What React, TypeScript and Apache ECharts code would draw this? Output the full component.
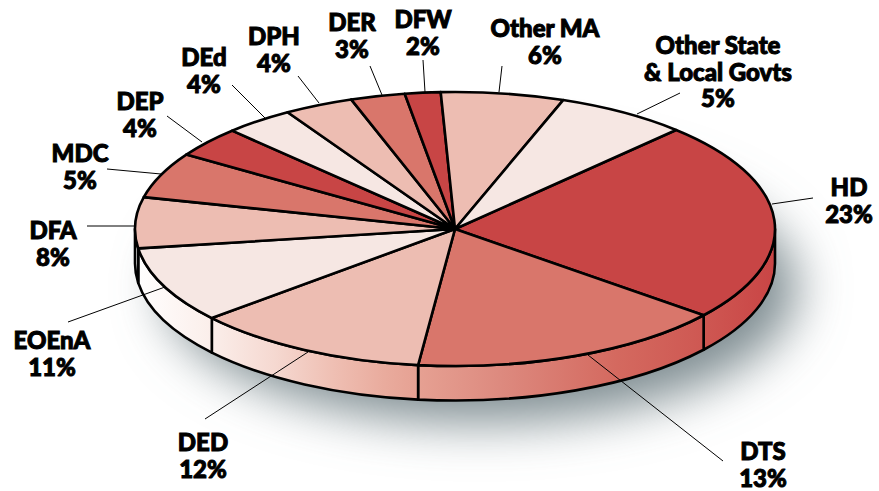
import React, { useEffect, useRef } from "react";
import * as echarts from "echarts";

const sliceNames = ["HD", "DTS", "DED", "EOEnA", "DFA", "MDC", "DEP", "DEd", "DPH", "DER", "DFW", "Other MA", "Other State\n& Local Govts"];
const percentLabels = ["23%", "13%", "12%", "11%", "8%", "5%", "4%", "4%", "4%", "3%", "2%", "6%", "5%"];
// Share of the disc each slice occupies as drawn in the picture
const drawnShares = [23.7, 16, 11.9, 9, 6, 5.4, 3.6, 3.5, 3.5, 2.75, 1.8, 6.2, 6.65];

const RED = "#c84545";
const MID = "#d9766b";
const LIGHT = "#edbdb2";
const PALE = "#f6e7e3";
const sliceColors = [RED, MID, LIGHT, PALE, LIGHT, MID, RED, PALE, LIGHT, MID, RED, LIGHT, PALE];

// Layout: [label centre x, first baseline y, leader x1, y1, x2, y2]
const labelLayout = [
  [849, 195, 772, 204, 813, 198],
  [763, 459, 588, 355, 723, 461],
  [203, 450, 308, 352, 205, 419],
  [52, 348, 165, 287, 68, 322],
  [53, 238, 134, 226, 87, 226],
  [80, 161, 161, 174, 107, 169],
  [140, 109, 202, 142, 167, 116],
  [204, 65, 265, 118, 232, 85],
  [274, 44, 319, 103, 298, 76],
  [352, 30, 382, 95, 370, 66],
  [423, 27, 425, 92, 423, 60],
  [545, 36, 499, 92, 502, 66],
  [718, 53, 637, 114, 680, 93],
];

const CX = 455, CY = 229, RX = 320, RY = 137, DEPTH = 34.5, START = 46.3;
const LINE_H = 26.5;
const FONT = "Lato";

const sideGradient = () =>
  new echarts.graphic.LinearGradient(135, 0, 775, 0, [
    { offset: 0, color: "#ffffff" },
    { offset: 0.12, color: "#fbeeea" },
    { offset: 0.22, color: "#f5d8d0" },
    { offset: 0.31, color: "#efbfb3" },
    { offset: 0.39, color: "#e9ab9d" },
    { offset: 0.44, color: "#e6a193" },
    { offset: 0.57, color: "#dd8a7f" },
    { offset: 0.753, color: "#d4695f" },
    { offset: 0.872, color: "#cf5a54" },
    { offset: 1, color: "#c94545" },
  ], true);

const px = (t: number) => CX + RX * Math.cos((t * Math.PI) / 180);
const py = (t: number, d = 0) => CY - RY * Math.sin((t * Math.PI) / 180) + d;

const total = drawnShares.reduce((a, b) => a + b, 0);
const sliceAngles: number[][] = [];
{
  let a = START;
  drawnShares.forEach((v) => {
    const b = a - (v / total) * 360;
    sliceAngles.push([a, b]);
    a = b;
  });
}

const lineStyle = { stroke: "#000", lineWidth: 2.6, lineJoin: "round" as const };

export default function App() {
  const ref = useRef<HTMLDivElement>(null);
  useEffect(() => {
    const chart = echarts.init(ref.current!, undefined, { renderer: "svg" });
    const texts = sliceNames.map((n, i) => ({
      type: "text",
      z: 101,
      x: labelLayout[i][0],
      y: labelLayout[i][1] + 5 + LINE_H * (n.split("\n").length),
      style: {
        text: `${n}\n${percentLabels[i]}`,
        font: `900 24px ${FONT}`,
        fill: "#000",
        stroke: "#000",
        lineWidth: 1,
        align: "center",
        verticalAlign: "bottom",
        lineHeight: LINE_H,
      },
    }));
    const leaders = labelLayout.map((l) => ({
      type: "line",
      z: 100,
      shape: { x1: l[2], y1: l[3], x2: l[4], y2: l[5] },
      style: { stroke: "#000", lineWidth: 1 },
    }));
    chart.setOption({
      animation: false,
      backgroundColor: "#fff",
      graphic: [
        {
          type: "ellipse",
          z: 0,
          shape: { cx: CX, cy: CY + DEPTH - 6, rx: RX - 4, ry: RY - 2 },
          style: {
            fill: "#fff",
            shadowColor: "#7f8d92",
            shadowBlur: 50,
            shadowOffsetX: 26,
            shadowOffsetY: 30,
          },
        },
        ...leaders,
        ...texts,
      ],
      series: [
        {
          type: "custom",
          coordinateSystem: "none",
          z: 2,
          silent: true,
          data: sliceAngles,
          renderItem: (_p: any, api: any) => {
            const a = Math.min(api.value(0), 0);
            const b = Math.max(api.value(1), -180);
            if (a <= b) return { type: "group", children: [] };
            const d =
              `M ${px(a)} ${py(a)} A ${RX} ${RY} 0 0 1 ${px(b)} ${py(b)} ` +
              `L ${px(b)} ${py(b, DEPTH)} A ${RX} ${RY} 0 0 0 ${px(a)} ${py(a, DEPTH)} Z`;
            return {
              type: "path",
              shape: { pathData: d },
              style: { fill: sideGradient(), ...lineStyle },
            };
          },
        },
        {
          type: "custom",
          coordinateSystem: "none",
          z: 3,
          silent: true,
          data: sliceAngles,
          renderItem: (p: any, api: any) => {
            const a = api.value(0);
            const b = api.value(1);
            const large = a - b > 180 ? 1 : 0;
            const d = `M ${CX} ${CY} L ${px(a)} ${py(a)} A ${RX} ${RY} 0 ${large} 1 ${px(b)} ${py(b)} Z`;
            return {
              type: "path",
              shape: { pathData: d },
              style: { fill: sliceColors[p.dataIndex], ...lineStyle },
            };
          },
        },
      ],
    });
    return () => chart.dispose();
  }, []);
  return <div ref={ref} style={{ width: 879, height: 491, position: "absolute", left: 0, top: 0 }} />;
}
